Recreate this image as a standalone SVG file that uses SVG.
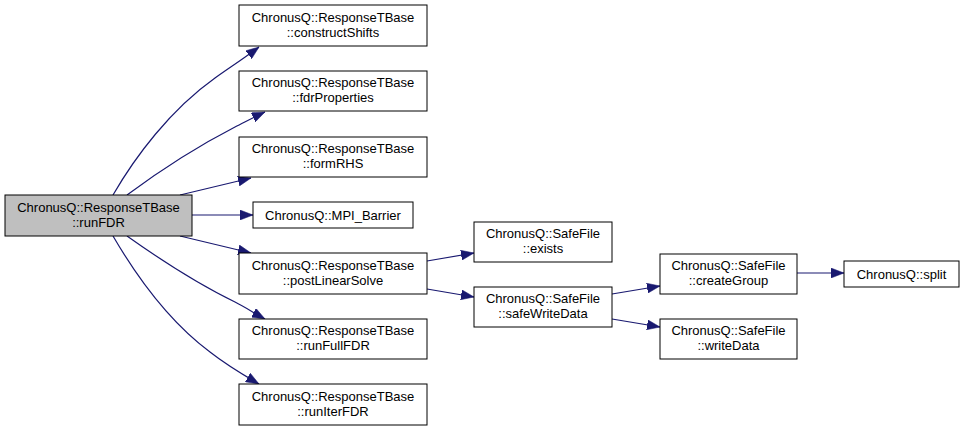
<svg xmlns="http://www.w3.org/2000/svg" width="964" height="431" viewBox="0 0 964 431">
<style>
.n rect{fill:#ffffff;stroke:#000000;stroke-width:1}
#root rect{fill:#bfbfbf}
.n text{font-family:"Liberation Sans",Arial,Helvetica,sans-serif;font-size:13px;fill:#000000;text-anchor:middle}
.e path{fill:none;stroke:#191970;stroke-width:1.2;marker-end:url(#ah)}
</style>
<defs>
<marker id="ah" viewBox="0 0 13 10" refX="13" refY="5" markerWidth="13" markerHeight="10" markerUnits="userSpaceOnUse" orient="auto">
<path d="M0,0 L13,5 L0,10 z" fill="#191970" stroke="#191970" stroke-width="0.5"/>
</marker>
</defs>
<rect x="0" y="0" width="964" height="431" fill="#ffffff"/>
<g id="edges" class="e">
<path d="M113,195 C135,157 170,110 215,78 C229,68 243,59 259,47"/>
<path d="M127,195 C158,172 200,145 235,127 C245,122 254,117 265,112"/>
<path d="M180,195 L251,178"/>
<path d="M192,215 L253,215"/>
<path d="M180,236 L251,253"/>
<path d="M127,236 C158,258 200,285 235,302 C245,307 254,313 265,319"/>
<path d="M113,236 C134,272 167,320 210,352 C224,363 240,373 259,384"/>
<path d="M427,261 L474,253"/>
<path d="M427,289 L474,297"/>
<path d="M612,294 L660,286"/>
<path d="M612,319 L660,327"/>
<path d="M797,273 L844,273"/>
</g>
<g id="root" class="n"><rect x="5" y="195" width="187" height="41"/><text x="98.5" y="212">ChronusQ::ResponseTBase</text><text x="98.5" y="227">::runFDR</text></g>
<g id="constructShifts" class="n"><rect x="239" y="5" width="188" height="41"/><text x="333" y="22">ChronusQ::ResponseTBase</text><text x="333" y="37">::constructShifts</text></g>
<g id="fdrProperties" class="n"><rect x="239" y="71" width="188" height="40"/><text x="333" y="87">ChronusQ::ResponseTBase</text><text x="333" y="102">::fdrProperties</text></g>
<g id="formRHS" class="n"><rect x="239" y="137" width="188" height="40"/><text x="333" y="153">ChronusQ::ResponseTBase</text><text x="333" y="168">::formRHS</text></g>
<g id="mpiBarrier" class="n"><rect x="253" y="202" width="160" height="26"/><text x="333" y="220">ChronusQ::MPI_Barrier</text></g>
<g id="postLinearSolve" class="n"><rect x="239" y="253" width="188" height="41"/><text x="333" y="270">ChronusQ::ResponseTBase</text><text x="333" y="285">::postLinearSolve</text></g>
<g id="runFullFDR" class="n"><rect x="239" y="319" width="188" height="40"/><text x="333" y="335">ChronusQ::ResponseTBase</text><text x="333" y="350">::runFullFDR</text></g>
<g id="runIterFDR" class="n"><rect x="239" y="384" width="188" height="41"/><text x="333" y="401">ChronusQ::ResponseTBase</text><text x="333" y="416">::runIterFDR</text></g>
<g id="exists" class="n"><rect x="474" y="222" width="138" height="40"/><text x="543" y="238">ChronusQ::SafeFile</text><text x="543" y="253">::exists</text></g>
<g id="safeWriteData" class="n"><rect x="474" y="287" width="138" height="40"/><text x="543" y="303">ChronusQ::SafeFile</text><text x="543" y="318">::safeWriteData</text></g>
<g id="createGroup" class="n"><rect x="660" y="254" width="137" height="40"/><text x="728.5" y="270">ChronusQ::SafeFile</text><text x="728.5" y="285">::createGroup</text></g>
<g id="writeData" class="n"><rect x="660" y="319" width="137" height="40"/><text x="728.5" y="335">ChronusQ::SafeFile</text><text x="728.5" y="350">::writeData</text></g>
<g id="split" class="n"><rect x="844" y="261" width="115" height="26"/><text x="901.5" y="278.5">ChronusQ::split</text></g>
</svg>
